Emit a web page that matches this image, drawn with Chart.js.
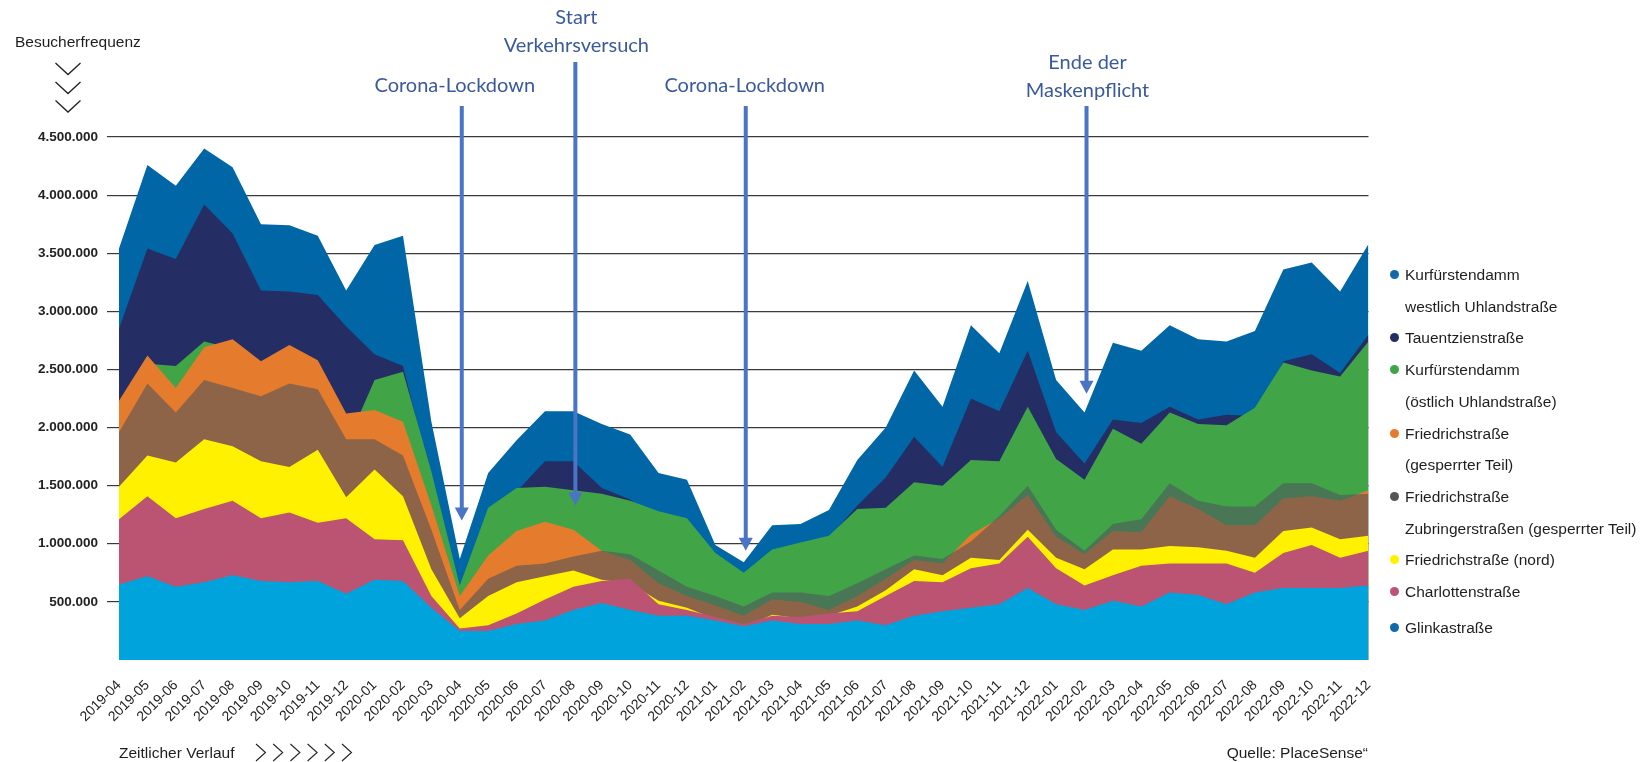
<!DOCTYPE html>
<html lang="de">
<head>
<meta charset="utf-8">
<title>Besucherfrequenz</title>
<script src="https://cdn.jsdelivr.net/npm/chart.js@4.4.1/dist/chart.umd.min.js"></script>
<style>
  html, body { margin: 0; padding: 0; background: #fff; }
  #wrap { position: relative; width: 1644px; height: 762px; overflow: hidden;
          font-family: "Liberation Sans", Arial, sans-serif; color: #1e1e1e; }
  #chart { position: absolute; left: 0; top: 0; }
  #deco { position: absolute; left: 0; top: 0; pointer-events: none; }
  .txt { position: absolute; white-space: nowrap; font-size: 15.5px; line-height: 18px; }
  .note { position: absolute; white-space: nowrap; text-align: center; color: #3a5a9c;
          font-family: Lato, "Open Sans", sans-serif; font-size: 20px; line-height: 28px;
          transform: translateX(-50%); }
  .dot { position: absolute; width: 9px; height: 9px; border-radius: 50%; }
</style>
</head>
<body>
<div id="wrap">
  <canvas id="chart" width="1644" height="762"></canvas>
  <svg id="deco" width="1644" height="762" fill="none" stroke="#222" stroke-width="1.3"></svg>
  <div class="txt" style="left:15px;top:33px">Besucherfrequenz</div>
  <div class="txt" style="left:119px;top:744px">Zeitlicher Verlauf</div>
  <div class="txt" style="right:276px;top:744px">Quelle: PlaceSense“</div>
  <div id="legend"></div>
  <div id="notes"></div>
</div>
<script>
// months on the x axis
const months = [
  '2019-04','2019-05','2019-06','2019-07','2019-08','2019-09','2019-10','2019-11','2019-12',
  '2020-01','2020-02','2020-03','2020-04','2020-05','2020-06','2020-07','2020-08','2020-09',
  '2020-10','2020-11','2020-12','2021-01','2021-02','2021-03','2021-04','2021-05','2021-06',
  '2021-07','2021-08','2021-09','2021-10','2021-11','2021-12','2022-01','2022-02','2022-03',
  '2022-04','2022-05','2022-06','2022-07','2022-08','2022-09','2022-10','2022-11','2022-12'
];

// visitor counts per street (areas overlap, each one drawn from zero)
const kudammWest = [3540000,4260000,4080000,4400000,4240000,3750000,3740000,3650000,3180000,
  3570000,3650000,2050000,870000,1610000,1890000,2140000,2140000,2030000,1940000,1610000,
  1550000,990000,840000,1160000,1170000,1290000,1720000,2000000,2490000,2180000,2880000,
  2640000,3260000,2410000,2130000,2730000,2660000,2880000,2760000,2740000,2830000,3360000,
  3420000,3170000,3580000];
const tauentzien = [2850000,3540000,3450000,3920000,3670000,3180000,3170000,3140000,2870000,
  2630000,2530000,1550000,600000,1100000,1450000,1710000,1710000,1480000,1380000,1200000,
  1100000,850000,700000,900000,950000,1050000,1330000,1570000,1920000,1660000,2250000,
  2140000,2660000,1960000,1690000,2070000,2040000,2180000,2070000,2110000,2100000,2570000,
  2630000,2470000,2800000];
const kudammOst = [2100000,2550000,2530000,2740000,2680000,2400000,2300000,2100000,1850000,
  2410000,2480000,1620000,640000,1310000,1480000,1490000,1460000,1430000,1370000,1280000,
  1220000,920000,750000,950000,1010000,1070000,1300000,1310000,1530000,1500000,1720000,
  1710000,2180000,1730000,1550000,1990000,1860000,2130000,2030000,2020000,2170000,2560000,
  2490000,2440000,2740000];
const friedrichGesperrt = [2230000,2620000,2340000,2690000,2760000,2570000,2710000,2580000,2120000,
  2150000,2050000,1330000,550000,900000,1110000,1190000,1120000,940000,860000,660000,
  550000,470000,380000,520000,500000,430000,550000,700000,860000,830000,1080000,
  1220000,1420000,1060000,910000,1110000,1100000,1410000,1300000,1160000,1160000,1390000,
  1410000,1370000,1460000];
const friedrichZubringer = [1960000,2380000,2130000,2410000,2340000,2270000,2380000,2330000,1900000,
  1900000,1760000,1120000,430000,700000,810000,830000,890000,940000,910000,770000,
  630000,550000,460000,580000,580000,550000,660000,780000,900000,870000,1020000,
  1240000,1500000,1120000,940000,1170000,1210000,1520000,1370000,1320000,1320000,1520000,
  1520000,1420000,1430000];
const friedrichNord = [1490000,1760000,1700000,1900000,1840000,1710000,1660000,1810000,1400000,
  1640000,1410000,780000,360000,550000,670000,720000,770000,690000,660000,510000,
  450000,350000,280000,390000,360000,380000,460000,600000,780000,730000,880000,
  860000,1120000,880000,780000,950000,950000,980000,970000,940000,880000,1110000,
  1140000,1040000,1070000];
const charlotten = [1210000,1410000,1220000,1300000,1370000,1220000,1270000,1180000,1220000,
  1040000,1030000,550000,270000,300000,400000,520000,630000,680000,700000,480000,
  430000,370000,310000,380000,370000,400000,420000,550000,680000,670000,790000,
  830000,1060000,790000,640000,730000,810000,830000,830000,830000,750000,920000,
  990000,880000,940000];
const glinka = [650000,720000,630000,670000,730000,680000,670000,680000,570000,
  690000,680000,450000,250000,250000,310000,340000,430000,490000,430000,380000,
  380000,340000,290000,340000,310000,310000,340000,300000,380000,420000,450000,
  480000,620000,480000,430000,510000,460000,580000,560000,480000,580000,620000,
  620000,620000,640000];

// legend order = paint order (first one is painted first, last one ends on top)
const series = [
  { name: ['Kurfürstendamm', 'westlich Uhlandstraße'], values: kudammWest, fill: '#0066a5', dot: '#1068ad' },
  { name: ['Tauentzienstraße'], values: tauentzien, fill: '#252e64', dot: '#252e64' },
  { name: ['Kurfürstendamm', '(östlich Uhlandstraße)'], values: kudammOst, fill: '#41a548', dot: '#3fa548' },
  { name: ['Friedrichstraße', '(gesperrter Teil)'], values: friedrichGesperrt, fill: '#e57b2d', dot: '#e57b2d' },
  { name: ['Friedrichstraße', 'Zubringerstraßen (gesperrter Teil)'], values: friedrichZubringer, fill: 'rgba(80,84,93,0.58)', dot: '#555558' },
  { name: ['Friedrichstraße (nord)'], values: friedrichNord, fill: '#fff100', dot: '#fff100' },
  { name: ['Charlottenstraße'], values: charlotten, fill: '#ba5472', dot: '#ba5472' },
  { name: ['Glinkastraße'], values: glinka, fill: '#00a3db', dot: '#1068ad' }
];

// event markers
const events = [
  { month: '2020-04', text: ['Corona-Lockdown'], tip: 1200000, stemTop: 106, textTop: 70, dx: -7 },
  { month: '2020-08', text: ['Start', 'Verkehrsversuch'], tip: 1330000, stemTop: 62, textTop: 2, dx: 1 },
  { month: '2021-02', text: ['Corona-Lockdown'], tip: 940000, stemTop: 106, textTop: 70, dx: -1 },
  { month: '2022-02', text: ['Ende der', 'Maskenpflicht'], tip: 2290000, stemTop: 106, textTop: 47, dx: 1 }
];

const fmt = v => String(v).replace(/\B(?=(\d{3})+(?!\d))/g, '.');

// legend
const legend = document.getElementById('legend');
let row = 0;
series.forEach((s, k) => {
  const yc = 274.5 + row * 31.7 + (k === series.length - 1 ? 4 : 0);
  const d = document.createElement('div');
  d.className = 'dot';
  d.style.left = '1390px';
  d.style.top = (yc - 4.5) + 'px';
  d.style.background = s.dot;
  legend.appendChild(d);
  s.name.forEach((line, j) => {
    const t = document.createElement('div');
    t.className = 'txt';
    t.style.left = '1405px';
    t.style.top = (yc + j * 31.7 - 8.5) + 'px';
    t.textContent = line;
    legend.appendChild(t);
  });
  row += s.name.length;
});

// notes
const notesBox = document.getElementById('notes');
const noteEls = events.map(ev => {
  const n = document.createElement('div');
  n.className = 'note';
  n.style.top = ev.textTop + 'px';
  n.innerHTML = ev.text.join('<br>');
  notesBox.appendChild(n);
  return n;
});

// chevrons
const svg = document.getElementById('deco');
let paths = '';
[63, 82, 100.5].forEach(y0 => {
  paths += `<polyline points="55.5,${y0} 68,${y0 + 11.5} 80.5,${y0}"/>`;
});
for (let i = 0; i < 6; i++) {
  const x0 = 256 + i * 17.2;
  paths += `<polyline points="${x0},744 ${x0 + 9.5},752.5 ${x0},761" stroke-width="1.1"/>`;
}
svg.innerHTML = paths;

const eventArrows = {
  id: 'eventArrows',
  afterDatasetsDraw(chart) {
    const { ctx, scales: { x, y } } = chart;
    ctx.save();
    events.forEach((ev, k) => {
      const px = x.getPixelForValue(months.indexOf(ev.month)) + 2;
      const tip = y.getPixelForValue(ev.tip);
      ctx.strokeStyle = '#4a74c4';
      ctx.fillStyle = '#4a74c4';
      ctx.lineWidth = 4;
      ctx.beginPath();
      ctx.moveTo(px, ev.stemTop);
      ctx.lineTo(px, tip - 12);
      ctx.stroke();
      ctx.beginPath();
      ctx.moveTo(px - 7, tip - 13);
      ctx.lineTo(px + 7, tip - 13);
      ctx.lineTo(px, tip);
      ctx.closePath();
      ctx.fill();
      noteEls[k].style.left = (px + ev.dx) + 'px';
    });
    ctx.restore();
  }
};

new Chart(document.getElementById('chart'), {
  type: 'line',
  data: {
    labels: months,
    datasets: series.map((s, k) => ({
      label: s.name.join(' '),
      data: s.values,
      backgroundColor: s.fill,
      borderColor: s.fill,
      borderWidth: 0,
      pointRadius: 0,
      tension: 0,
      fill: 'origin',
      order: series.length - 1 - k
    }))
  },
  options: {
    responsive: false,
    animation: false,
    devicePixelRatio: 1,
    layout: { padding: { top: 137, right: 275.5, bottom: 0, left: 0 } },
    plugins: { legend: { display: false }, tooltip: { enabled: false } },
    scales: {
      x: {
        offset: false,
        grid: { display: false, drawTicks: false },
        border: { display: false },
        ticks: {
          autoSkip: false, minRotation: 45, maxRotation: 45, padding: 17,
          color: '#222', font: { family: 'Liberation Sans', size: 14 }
        },
        afterFit: s => { s.height = 102; }
      },
      y: {
        min: 0, max: 4500000,
        border: { display: false },
        grid: {
          color: c => (c.tick && c.tick.value === 0) ? 'rgba(0,0,0,0)' : '#3a3a3a',
          lineWidth: 1.2, tickLength: 12
        },
        ticks: {
          stepSize: 500000, padding: 9, color: '#222',
          font: { family: 'Liberation Sans', size: 13.5, weight: 'bold' },
          callback: v => v === 0 ? '' : fmt(v)
        },
        afterFit: s => { s.width = 119; }
      }
    }
  },
  plugins: [eventArrows]
});
</script>
</body>
</html>
